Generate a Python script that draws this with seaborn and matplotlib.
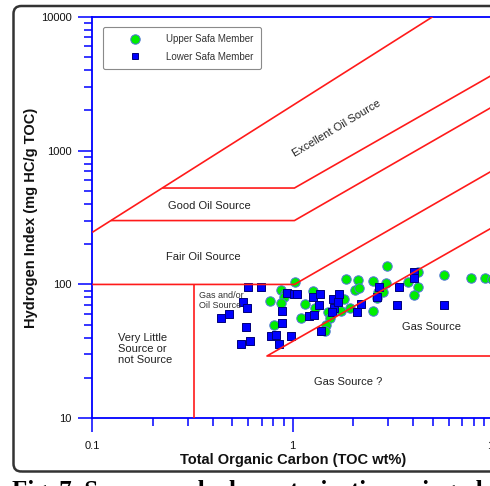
import matplotlib
matplotlib.use("Agg")
import matplotlib.pyplot as plt
import numpy as np
import pandas as pd
import seaborn as sns
from matplotlib.lines import Line2D
from matplotlib.patches import FancyBboxPatch
from matplotlib.ticker import FixedLocator, NullFormatter

# ---- samples: TOC (wt%) and hydrogen index (mg HC/g TOC) ----
upper_toc = [0.769, 0.879, 0.915, 0.905, 0.876, 0.811, 1.023, 1.102, 1.148, 1.263,
             1.290, 1.849, 2.123, 2.039, 2.141, 1.807, 1.738, 1.500, 1.530, 1.472,
             1.445, 1.927, 2.516, 2.522, 2.620, 2.665, 2.822, 2.939, 2.932, 3.753,
             4.196, 4.234, 4.045, 5.69, 7.76, 9.11, 9.84]
upper_hi = [75.6, 90.2, 84.9, 80.0, 72.1, 49.8, 105.0, 55.7, 71.7, 89.4,
            66.2, 110.3, 108.1, 90.9, 93.3, 77.7, 63.4, 62.7, 55.9, 49.8,
            45.2, 66.2, 106.2, 63.4, 79.3, 88.3, 88.3, 136.3, 102.6, 105.0,
            124.6, 95.0, 82.8, 117.8, 111.3, 111.3, 109.0]

lower_toc = [0.441, 0.483, 0.567, 0.592, 0.595, 0.692, 0.585, 0.612, 0.552, 0.777,
             0.823, 0.857, 0.889, 0.881, 0.933, 0.981, 1.015, 1.053, 1.263, 1.371,
             1.348, 1.202, 1.270, 1.381, 1.593, 1.702, 1.602, 1.562, 1.683, 2.187,
             2.082, 2.711, 2.644, 3.400, 4.03, 4.03, 3.296, 5.69]
lower_hi = [55.7, 59.9, 74.3, 66.2, 95.8, 95.8, 47.7, 38.0, 35.9, 41.0,
            42.0, 35.9, 63.1, 51.1, 86.4, 41.5, 84.5, 84.5, 80.0, 84.6,
            70.3, 58.2, 58.7, 45.0, 77.3, 84.9, 66.4, 62.7, 74.0, 71.1,
            61.8, 95.0, 81.1, 95.4, 123.3, 112.4, 69.7, 69.7]

# ---- source-rock class boundaries (TOC, HI) ----
excellent_toc, excellent_hi = [0.1, 5.0], [245, 10000]
good_top_toc, good_top_hi = [0.2234, 1.02, 10], [525, 525, 3700]
good_base_toc, good_base_hi = [0.124, 1.02, 10], [300, 300, 2140]
fair_base_toc, fair_base_hi = [0.1, 1.02, 10], [100, 100, 713]
gas_base_toc, gas_base_hi = [10, 0.744, 10], [268, 29.2, 29.2]
poor_edge_toc, poor_edge_hi = [0.32, 0.32], [10, 100]

x_ticks, x_tick_labels = [0.1, 1, 10], ["0.1", "1", "10"]
y_ticks, y_tick_labels = [10, 100, 1000, 10000], ["10", "100", "1000", "10000"]

sns.set_theme(style="white")
plt.rcParams["font.family"] = ["Liberation Sans", "DejaVu Sans"]

W, H = 490, 486
fig = plt.figure(figsize=(W / 100, H / 100), dpi=100)
fig.patch.set_facecolor("white")

# outer rounded frame and caption
frame = FancyBboxPatch((13.5 / W, 14.5 / H), 1.1, (480 - 14.5) / H,
                       boxstyle="round,pad=0,rounding_size=0.016",
                       transform=fig.transFigure, facecolor="none",
                       edgecolor="#333333", linewidth=1.8, zorder=0)
fig.patches.append(frame)
fig.text(12 / W, (486 - 497.5) / H, "Fig. 7. Source rock characterization using plot",
         family=["Liberation Serif", "DejaVu Serif"], fontweight="bold",
         fontsize=18, ha="left", va="baseline", color="black")

ax = fig.add_axes([92.3 / W, (H - 418.3) / H, 400.8 / W, 401.6 / H])
ax.set_facecolor("none")

df_up = pd.DataFrame({"TOC": upper_toc, "HI": upper_hi})
df_lo = pd.DataFrame({"TOC": lower_toc, "HI": lower_hi})
sns.scatterplot(data=df_up, x="TOC", y="HI", marker="o", s=46, color="#00ee00",
                edgecolor="#4f74d8", linewidth=0.7, ax=ax, zorder=3)
sns.scatterplot(data=df_lo, x="TOC", y="HI", marker="s", s=34, color="#0000ff",
                edgecolor="#00007a", linewidth=0.7, ax=ax, zorder=4)

red = dict(color="#ff1a1a", linewidth=1.2, zorder=5, solid_capstyle="butt")
for bx, by in [(excellent_toc, excellent_hi), (good_top_toc, good_top_hi),
               (good_base_toc, good_base_hi), (fair_base_toc, fair_base_hi),
               (gas_base_toc, gas_base_hi), (poor_edge_toc, poor_edge_hi)]:
    ax.plot(bx, by, **red)

ax.set_xscale("log")
ax.set_yscale("log")
ax.set_xlim(0.1, 10)
ax.set_ylim(10, 10000)

ax.xaxis.set_major_locator(FixedLocator(x_ticks))
ax.set_xticklabels(x_tick_labels)
ax.yaxis.set_major_locator(FixedLocator(y_ticks))
ax.set_yticklabels(y_tick_labels)
minor_x = [m * 10.0 ** e for e in (-1, 0) for m in range(2, 10)]
minor_y = [m * 10.0 ** e for e in (1, 2, 3) for m in range(2, 10)]
ax.xaxis.set_minor_locator(FixedLocator(minor_x))
ax.yaxis.set_minor_locator(FixedLocator(minor_y))
ax.xaxis.set_minor_formatter(NullFormatter())
ax.yaxis.set_minor_formatter(NullFormatter())

ax.tick_params(axis="both", which="major", direction="out", length=10, width=1.1,
               color="#0000ff", labelsize=8, labelcolor="#111111",
               bottom=True, left=True, top=False, right=False)
ax.tick_params(axis="y", which="major", pad=5)
ax.tick_params(axis="x", which="major", pad=6)
ax.tick_params(axis="both", which="minor", direction="out", length=5.8, width=1.1,
               color="#0000ff", bottom=True, left=True, top=False, right=False)
for side in ["left", "bottom", "top", "right"]:
    ax.spines[side].set_color("#0000ff")
    ax.spines[side].set_linewidth(1.3)
    ax.spines[side].set_visible(True)

ax.set_xlabel("Total Organic Carbon (TOC wt%)", fontsize=10.5, fontweight="bold",
              color="#111111")
ax.xaxis.set_label_coords(0.5, -0.104)
ax.xaxis.label.set_va("center")
ax.set_ylabel("Hydrogen Index (mg HC/g TOC)", fontsize=10.5, fontweight="bold",
              color="#111111")
ax.yaxis.set_label_coords(-0.154, 0.5)
ax.yaxis.label.set_va("center")

txt = dict(fontsize=8, color="#222222", zorder=6)
ax.text(1.664, 1475, "Excellent Oil Source", rotation=31, rotation_mode="anchor",
        ha="center", va="center", **txt)
ax.text(0.382, 388, "Good Oil Source", ha="center", va="center", **txt)
ax.text(0.357, 161, "Fair Oil Source", ha="center", va="center", **txt)
ax.text(0.1343, 33.0, "Very Little\nSource or\nnot Source", ha="left", va="center",
        linespacing=1.1, **txt)
ax.text(0.3407, 76.2, "Gas and/or\nOil Source", ha="left", va="center",
        linespacing=1.15, fontsize=6.5, color="#333333", zorder=6)
ax.text(4.90, 47.9, "Gas Source", ha="center", va="center", **txt)
ax.text(1.881, 18.8, "Gas Source ?", ha="center", va="center", **txt)

handles = [
    Line2D([], [], linestyle="none", marker="o", markersize=6.8,
           markerfacecolor="#00ee00", markeredgecolor="#4f74d8", markeredgewidth=0.7),
    Line2D([], [], linestyle="none", marker="s", markersize=5.0,
           markerfacecolor="#0000ff", markeredgecolor="#00007a", markeredgewidth=0.7),
]
leg = ax.legend(handles, ["Upper Safa Member", "Lower Safa Member"],
                loc="upper left", bbox_to_anchor=(0.026, 0.975), fontsize=7,
                frameon=True, fancybox=True, framealpha=1, edgecolor="#8a8a8a",
                borderpad=0.75, handlelength=5.2, handletextpad=0.6,
                labelspacing=0.8, borderaxespad=0)
leg.get_frame().set_linewidth(0.8)
for t in leg.get_texts():
    t.set_color("#333333")
leg.set_zorder(7)

fig.savefig("out.png", dpi=100)
